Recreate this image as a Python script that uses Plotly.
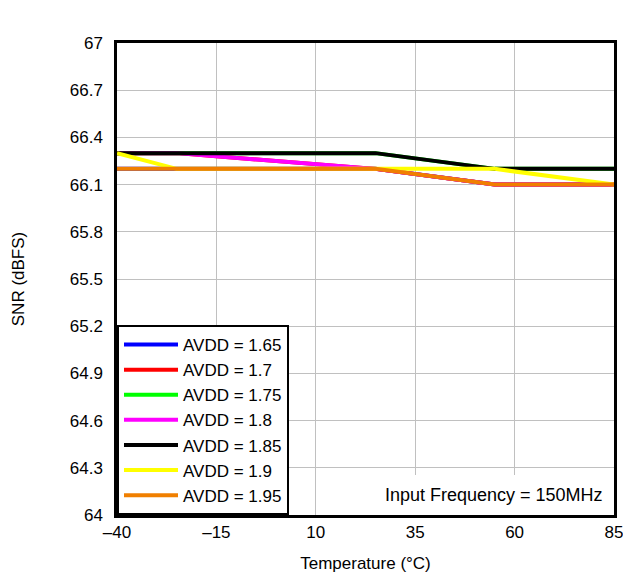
import plotly.graph_objects as go

temps = [-40, -25, 25, 55, 85]
snr_165 = [66.2, 66.2, 66.2, 66.1, 66.1]
snr_170 = [66.3, 66.3, 66.2, 66.1, 66.1]
snr_175 = [66.3, 66.3, 66.3, 66.2, 66.2]
snr_180 = [66.3, 66.3, 66.2, 66.1, 66.1]
snr_185 = [66.3, 66.3, 66.3, 66.2, 66.2]
snr_190 = [66.3, 66.2, 66.2, 66.2, 66.1]
snr_195 = [66.2, 66.2, 66.2, 66.1, 66.1]

series_names = ["AVDD = 1.65", "AVDD = 1.7", "AVDD = 1.75", "AVDD = 1.8",
                "AVDD = 1.85", "AVDD = 1.9", "AVDD = 1.95"]
series_vals = [snr_165, snr_170, snr_175, snr_180, snr_185, snr_190, snr_195]
colors = ["#0000ff", "#ff0000", "#00ff00", "#ff00ff", "#000000", "#ffff00", "#f07f00"]

x_ticks = [-40, -15, 10, 35, 60, 85]
x_ticktext = ["\u201340", "\u201315", "10", "35", "60", "85"]
y_ticks = [64, 64.3, 64.6, 64.9, 65.2, 65.5, 65.8, 66.1, 66.4, 66.7, 67]
y_ticktext = ["64", "64.3", "64.6", "64.9", "65.2", "65.5", "65.8", "66.1", "66.4", "66.7", "67"]

FAM = "Liberation Sans, Arial, sans-serif"

fig = go.Figure()
for name, vals, c in zip(series_names, series_vals, colors):
    fig.add_trace(go.Scatter(x=temps, y=vals, mode="lines", name=name,
                             line=dict(color=c, width=4)))

fig.update_layout(
    width=623, height=573,
    margin=dict(l=117, r=9, t=43, b=58),
    paper_bgcolor="white", plot_bgcolor="white",
    font=dict(family=FAM, size=17, color="#000000"),
    showlegend=True,
    legend=dict(x=0, y=0, xanchor="left", yanchor="bottom",
                bordercolor="black", borderwidth=2, bgcolor="white",
                font=dict(family=FAM, size=17, color="#000000"),
                tracegroupgap=0, itemwidth=54),
    xaxis=dict(range=[-40, 85], tickvals=x_ticks, ticktext=x_ticktext,
               showgrid=True, gridcolor="#c0c0c0", gridwidth=1,
               showline=True, linecolor="black", linewidth=2.5, mirror=True,
               ticks="", zeroline=False, automargin=False,
               ticklabeloverflow="allow",
               tickfont=dict(family=FAM, size=17),
               title=dict(text="Temperature (\u00b0C)", font=dict(family=FAM, size=17), standoff=21)),
    yaxis=dict(range=[64, 67], tickvals=y_ticks, ticktext=y_ticktext,
               showgrid=True, gridcolor="#c0c0c0", gridwidth=1,
               showline=True, linecolor="black", linewidth=2.5, mirror=True,
               ticks="", zeroline=False, automargin=False, ticklabelstandoff=8,
               tickfont=dict(family=FAM, size=17),
               title=dict(text="SNR (dBFS)", font=dict(family=FAM, size=17), standoff=41)),
    annotations=[dict(text="Input Frequency = 150MHz", xref="paper", yref="paper",
                      x=0.998, y=0.0, xanchor="right", yanchor="bottom",
                      showarrow=False, borderwidth=0,
                      bgcolor="white", borderpad=10,
                      font=dict(family=FAM, size=18, color="#000000"))],
)

fig.write_html("out.html",
               config={"displayModeBar": False},
               post_script="document.body.style.margin='0';document.body.style.overflow='hidden';")
